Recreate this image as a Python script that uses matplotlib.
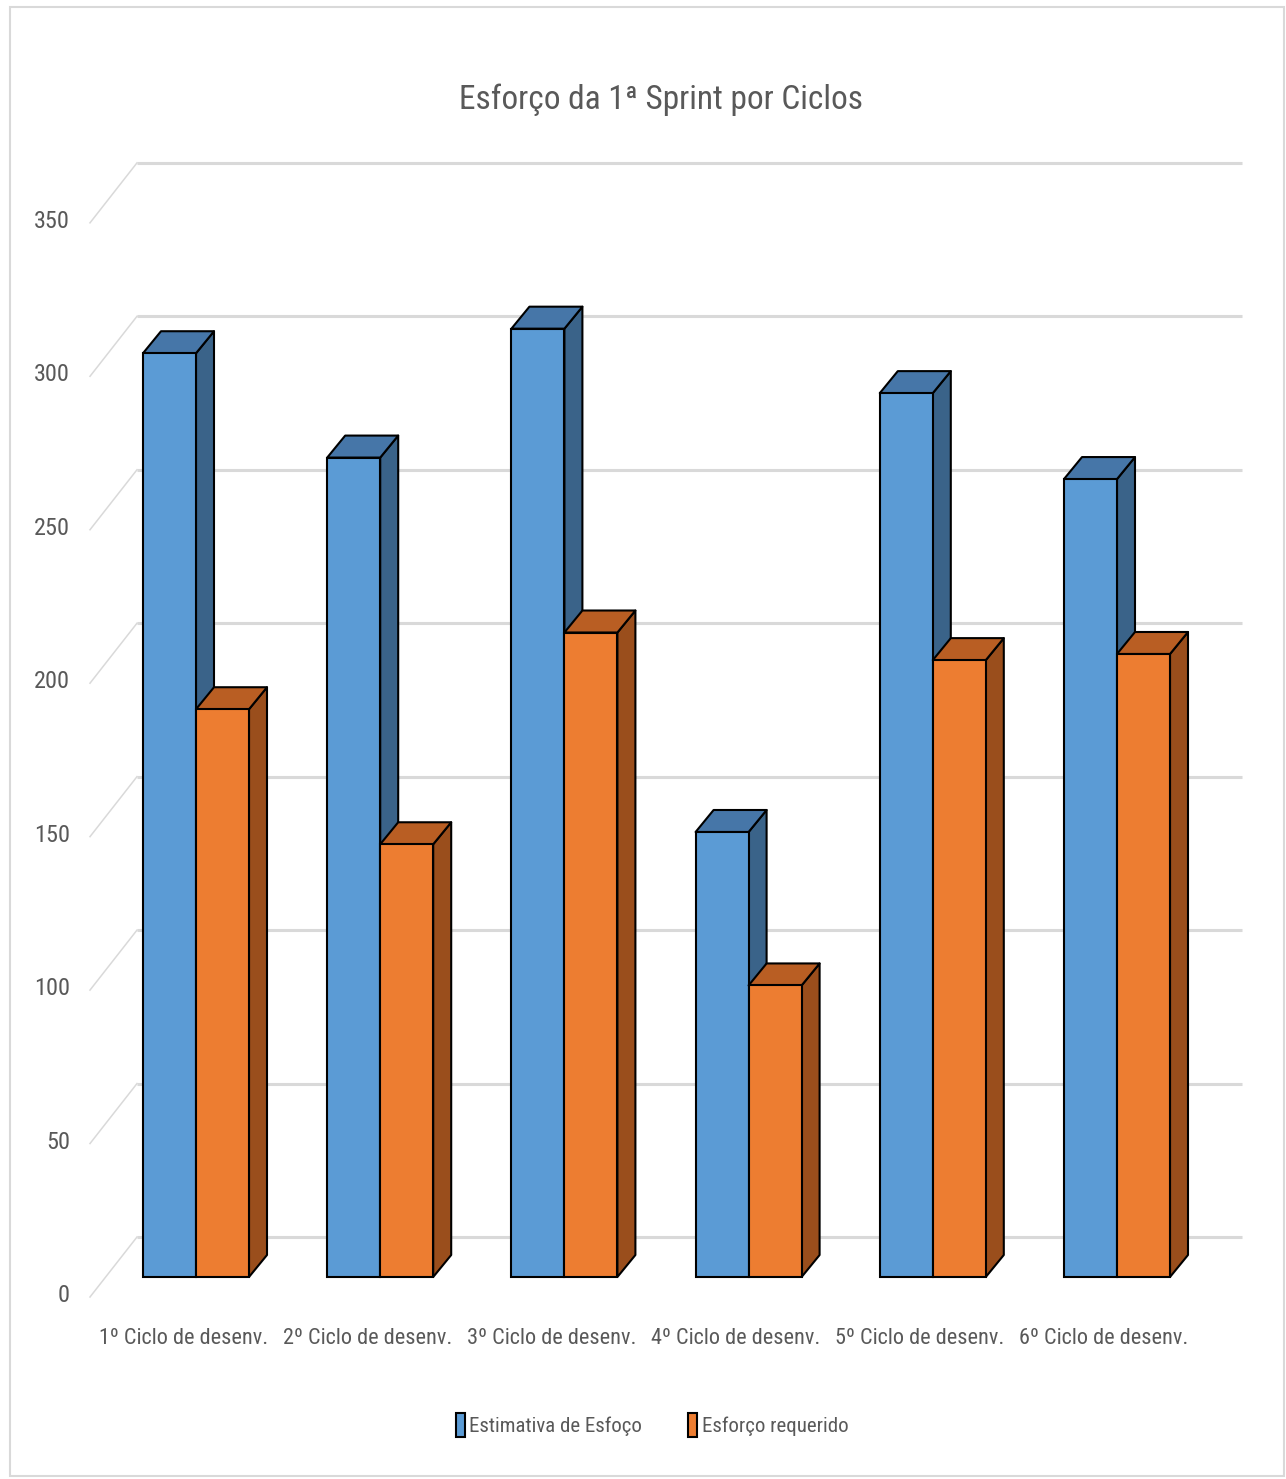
import matplotlib
matplotlib.use('Agg')
import matplotlib.pyplot as plt
from matplotlib.patches import Polygon, Rectangle, Patch
from matplotlib import font_manager as fm

# data
categories = ['1º Ciclo de desenv.', '2º Ciclo de desenv.', '3º Ciclo de desenv.',
              '4º Ciclo de desenv.', '5º Ciclo de desenv.', '6º Ciclo de desenv.']
estimativa = [301, 267, 309, 145, 288, 260]
requerido = [185, 141, 210, 95, 201, 203]
y_ticks = [0, 50, 100, 150, 200, 250, 300, 350]
series_names = ['Estimativa de Esfoço', 'Esforço requerido']
title = 'Esforço da 1ª Sprint por Ciclos'

# the reference uses a very narrow face; take a condensed one if there is any
fonts = fm.fontManager.ttflist
names = {f.name for f in fonts}
STRETCH = 'normal'
FACE = 'Liberation Sans'
for cand in ['Liberation Sans Narrow', 'Roboto Condensed', 'DejaVu Sans Condensed',
             'Open Sans Condensed', 'Noto Sans Condensed']:
    if cand in names:
        FACE = cand
        break
else:
    if any(f.name == 'DejaVu Sans' and f.stretch == 'condensed' for f in fonts):
        FACE, STRETCH = 'DejaVu Sans', 'condensed'
FONT = [FACE, 'DejaVu Sans']
TXT = '#595959'
GRID = '#D9D9D9'

# geometry (pixel layout of the reference, converted to data units)
W_PX, H_PX = 1286, 1479
X_UNIT, Y_UNIT = 184.2, 3.069      # px per category, px per value unit
OX, OY = 196, 1277                  # pixel of (group 0, value 0) on bar fronts
BW = 53 / X_UNIT                    # bar width
DX, DY = 18 / X_UNIT, 22 / Y_UNIT   # bar depth
WALL = (OY - 1237) / Y_UNIT         # back wall offset
FRONT = (OY - 1297) / Y_UNIT        # front edge of the floor
XF, XB = (90 - OX) / X_UNIT, (137 - OX) / X_UNIT
XR = (1242 - OX) / X_UNIT

fig = plt.figure(figsize=(W_PX / 100, H_PX / 100), dpi=100)
ax = fig.add_axes([0, 0, 1, 1])
ax.axis('off')


def label(x, y, s, size, **kw):
    ax.text(x, y, s, color=TXT, fontsize=size, family=FONT, fontstretch=STRETCH, **kw)


# walls: gridlines and the diagonal ticks on the left side
for v in y_ticks:
    ax.plot([XB, XR], [v + WALL, v + WALL], color=GRID, lw=2.2, zorder=0.5,
            solid_capstyle='butt')
    ax.plot([XF, XB], [v + FRONT, v + WALL], color=GRID, lw=1.1, zorder=0.5)
    label((70 - OX) / X_UNIT, v + FRONT + 0.5, str(v), 17.5, ha='right', va='center')

colors = [('#5B9BD5', '#4676A8', '#3A6389'), ('#ED7D31', '#B95E23', '#9A4E1C')]


def bar3d(x0, h, face, top, side, z):
    x1 = x0 + BW
    kw = dict(ec='black', lw=1.5, joinstyle='round', zorder=z)
    ax.add_patch(Polygon([(x1, 0), (x1 + DX, DY), (x1 + DX, h + DY), (x1, h)],
                         fc=side, **kw))
    ax.add_patch(Polygon([(x0, h), (x0 + DX, h + DY), (x1 + DX, h + DY), (x1, h)],
                         fc=top, **kw))
    ax.bar(x0, h, width=BW, align='edge', color=face, edgecolor='black',
           lw=1.5, zorder=z + 0.001)


z = 2
for i in range(len(categories)):
    for k, vals in enumerate([estimativa, requerido]):
        x0 = i - BW if k == 0 else i
        bar3d(x0, vals[i], *colors[k], z)
        z += 0.01
    label(i - 0.07, (OY - 1339) / Y_UNIT, categories[i], 16, ha='center', va='center')

label((661 - OX) / X_UNIT, (OY - 100) / Y_UNIT, title, 24, ha='center', va='center')

handles = [Patch(fc=colors[k][0], ec='black', lw=1.5) for k in range(2)]
ax.legend(handles, series_names, loc='center', ncol=2, frameon=False,
          bbox_to_anchor=(652 / W_PX, 1 - 1425 / H_PX),
          prop=fm.FontProperties(family=FONT, size=15, stretch=STRETCH),
          labelcolor=TXT, handlelength=0.45, handleheight=1.4, handletextpad=0.2,
          columnspacing=2.2)

ax.set_xlim(-OX / X_UNIT, (W_PX - OX) / X_UNIT)
ax.set_ylim((OY - H_PX) / Y_UNIT, OY / Y_UNIT)

fig.patches.append(Rectangle((10 / W_PX, 1 - 1476 / H_PX), 1274 / W_PX, 1469 / H_PX,
                             transform=fig.transFigure, fill=False, ec=GRID, lw=1.5))

fig.savefig('out.png', dpi=100, facecolor='white')
